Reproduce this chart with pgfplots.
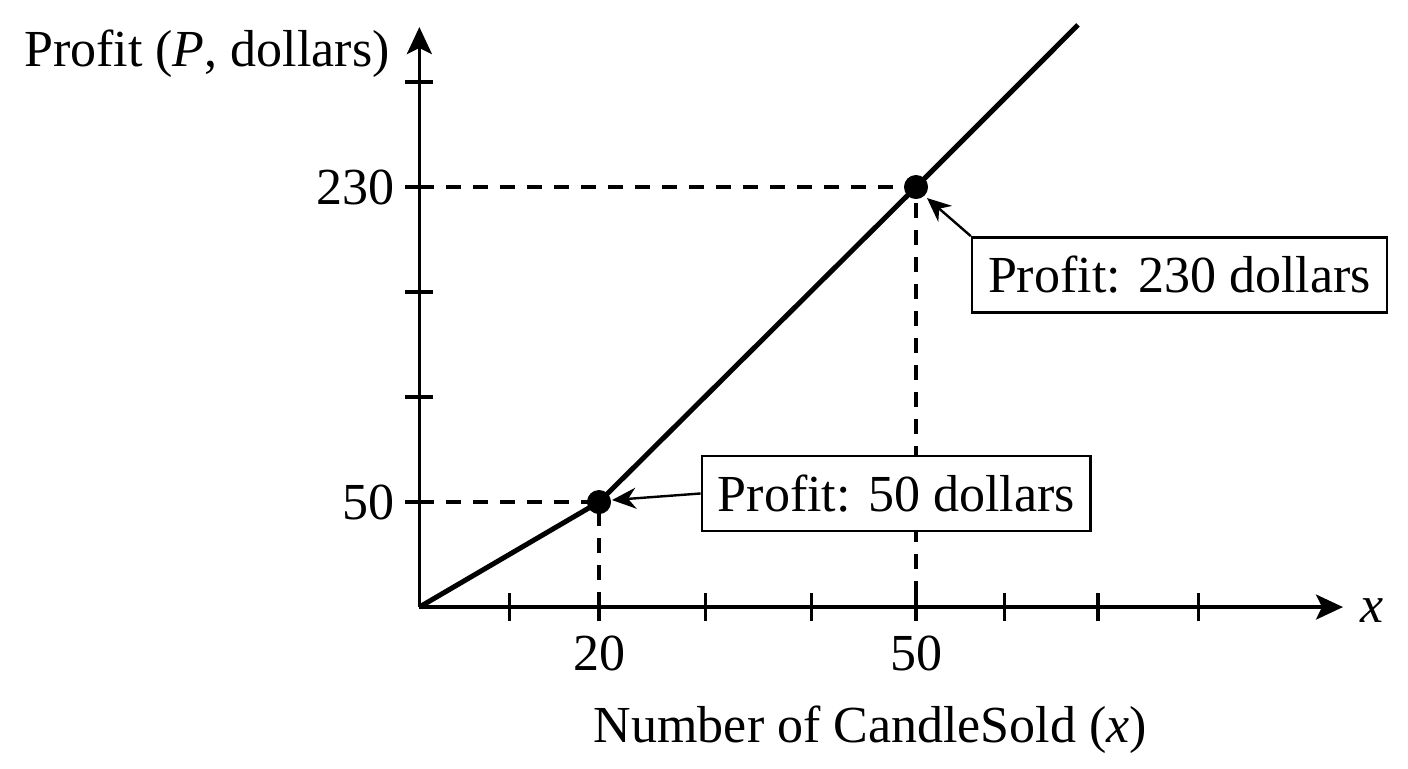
\documentclass[border=0pt]{standalone}
\usepackage{fontspec}
\setmainfont{Liberation Serif}
\usepackage{pgfplots}
\pgfplotsset{compat=1.18}
\usetikzlibrary{arrows.meta}

\begin{document}
\fontsize{26}{31}\selectfont
\begin{tikzpicture}
  \begin{axis}[
      scale only axis,
      width=461.8pt, height=290pt,
      xmin=3, xmax=90.41,
      ymin=-10, ymax=321.4,
      axis lines=left,
      axis line style={line width=1.6pt, -{Stealth[length=13.5pt,width=12.5pt,inset=3pt]}},
      xtick={11.53,20,30.08,40.11,50,58.37,67.22,76.73},
      xticklabels={,20,,,50,,,},
      ytick={50,110,170,230,290},
      yticklabels={50,,,230,},
      tick align=center,
      major tick length=14pt,
      tick style={line width=1.6pt, black},
      xticklabel style={anchor=north, inner sep=0pt, yshift=-7pt},
      yticklabel style={anchor=east, inner sep=0pt, xshift=-5pt},
      /pgf/number format/assume math mode=true,
      clip=false,
    ]
    % page frame
    \path (axis cs:-36.69,-102) rectangle (axis cs:96.56,336.86);

    % guide lines
    \addplot[black, line width=1.6pt, dash pattern=on 7.5pt off 6pt]
      coordinates {(3,50)(20,50)(20,-10)};
    \addplot[black, line width=1.6pt, dash pattern=on 7.5pt off 6pt]
      coordinates {(3,230)(50,230)(50,-10)};

    % profit line
    \addplot[black, line width=2.5pt]
      coordinates {(3,-10)(20,50)(50,230)(65.33,322.6)};
    \addplot[only marks, mark=*, mark size=5.8pt, black]
      coordinates {(20,50)(50,230)};

    % labels
    \node[anchor=base east, inner sep=0pt] at (axis cs:0.22,298.6)
      {Profit (\textit{P}, dollars)};
    \node[anchor=base, inner sep=0pt] at (axis cs:45.69,-87.1)
      {Number of CandleSold (\textit{x})};
    \node[anchor=base, inner sep=0pt] at (axis cs:93.15,-19.1) {\textit{x}};

    % callouts
    \node[draw, line width=1.3pt, fill=white, inner xsep=8pt, inner ysep=0pt,
          minimum height=37.5pt, anchor=west] (b1) at (axis cs:29.62,54.9)
      {Profit: 50 dollars};
    \node[draw, line width=1.3pt, fill=white, inner xsep=8pt, inner ysep=0pt,
          minimum height=37.5pt, anchor=west] (b2) at (axis cs:55.18,179.8)
      {Profit: 230 dollars};
    \draw[line width=1.2pt, -{Stealth[length=12pt,width=10.5pt]}]
      (b1.west) -- (axis cs:21.23,51.14);
    \draw[line width=1.2pt, -{Stealth[length=12pt,width=10.5pt]}]
      (b2.north west) -- (axis cs:51.04,223.7);
  \end{axis}
\end{tikzpicture}
\end{document}
